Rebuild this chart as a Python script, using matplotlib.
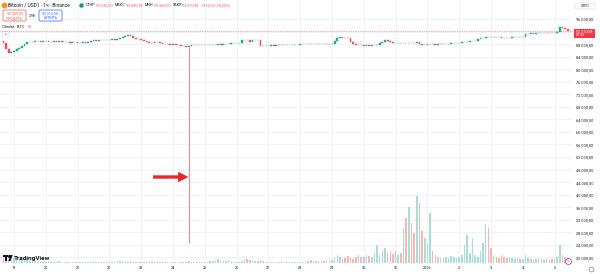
import matplotlib
matplotlib.use("Agg")
import matplotlib.pyplot as plt
import numpy as np
from matplotlib.transforms import IdentityTransform
from matplotlib.patches import FancyBboxPatch, Rectangle, Polygon, FancyArrowPatch
from matplotlib.lines import Line2D

plt.rcParams['font.family'] = ['Roboto', 'DejaVu Sans']

# ---------------- data ----------------
day_labels = ["19", "20", "21", "22", "23", "24", "25", "26", "27", "28",
              "29", "30", "31", "2026", "2", "3", "4", "5"]

hours_full = [0, 2, 4, 6, 8, 10, 12, 14, 16, 18, 20, 22]
hours_dec18 = [16, 18, 20, 22]
hours_jan05 = [0, 2, 4, 6, 8, 10]

first_open = 88900

dec18_close = [88300, 86400, 85300, 85600]
dec19_close = [85900, 86300, 86800, 87400, 88000, 88600, 88800, 88700, 88900, 89100, 88800, 88900]
dec20_close = [88900, 88700, 88800, 88900, 88800, 88900, 88700, 88800, 88600, 88500, 88700, 88600]
dec21_close = [88500, 88400, 88600, 88500, 88700, 89000, 89200, 89100, 89300, 89200, 89400, 89300]
dec22_close = [89300, 89500, 89400, 89700, 90000, 90400, 90700, 91000, 90600, 89900, 89700, 89600]
dec23_close = [89300, 88900, 88700, 88300, 88500, 88700, 88600, 88400, 88000, 87900, 88000, 87800]
dec24_close = [87900, 87700, 87600, 87400, 87300, 87200, 87300, 87600, 87700, 87600, 87800, 87700]
dec25_close = [87700, 87800, 87600, 87700, 87800, 87900, 87800, 87900, 88000, 88100, 88200, 88300]
dec26_close = [88200, 88300, 89200, 89400, 89300, 88800, 89300, 89400, 89200, 87300, 87400, 87500]
dec27_close = [87500, 87600, 87500, 87600, 87700, 87600, 87700, 87600, 87700, 87800, 87700, 87800]
dec28_close = [87900, 88000, 87900, 88000, 88100, 88000, 87900, 88000, 88100, 88000, 88100, 88000]
dec29_close = [88100, 88900, 89900, 90400, 90100, 89900, 89800, 88600, 87900, 87700, 87600, 87600]
dec30_close = [87500, 87600, 87500, 87600, 87700, 87800, 88300, 88800, 89200, 89000, 88700, 88500]
dec31_close = [88400, 88400, 88300, 88400, 88300, 88450, 88350, 88300, 88700, 87900, 87700, 87800]
jan01_close = [87900, 88000, 87900, 87800, 87900, 88000, 87900, 88000, 88100, 88200, 88300, 88400]
jan02_close = [88500, 88600, 88700, 88800, 88900, 89000, 89100, 89600, 89800, 89900, 90400, 90300]
jan03_close = [90200, 90300, 90200, 90150, 90100, 89900, 89850, 90100, 90200, 90300, 90400, 90300]
jan04_close = [90400, 91200, 91300, 91400, 91300, 91500, 91400, 91500, 91600, 91500, 91600, 91500]
jan05_close = [91600, 91700, 93400, 93100, 92700, 92310.98]

dec18_vol = [50, 40, 30, 40]
dec19_vol = [50, 70, 40, 30, 30, 50, 20, 20, 20, 10, 10, 10]
dec20_vol = [10, 10, 10, 10, 10, 20, 10, 10, 10, 10, 10, 10]
dec21_vol = [10, 10, 10, 10, 10, 10, 20, 10, 10, 10, 10, 10]
dec22_vol = [10, 10, 10, 20, 20, 20, 20, 10, 20, 10, 10, 10]
dec23_vol = [10, 10, 10, 10, 20, 10, 10, 10, 10, 10, 10, 10]
dec24_vol = [10, 10, 10, 10, 10, 10, 20, 10, 10, 10, 10, 10]
dec25_vol = [10, 10, 20, 20, 30, 40, 30, 20, 20, 30, 20, 10]
dec26_vol = [10, 10, 20, 30, 40, 30, 30, 20, 20, 30, 20, 10]
dec27_vol = [10, 10, 10, 10, 10, 20, 10, 10, 10, 10, 10, 10]
dec28_vol = [10, 10, 10, 20, 30, 20, 20, 10, 10, 20, 30, 20]
dec29_vol = [30, 50, 80, 60, 40, 50, 70, 50, 40, 60, 80, 60]
dec30_vol = [60, 80, 70, 60, 100, 180, 80, 130, 150, 100, 120, 90]
dec31_vol = [120, 80, 100, 350, 450, 560, 400, 300, 670, 600, 320, 250]
jan01_vol = [200, 500, 120, 80, 60, 50, 50, 60, 50, 70, 60, 50]
jan02_vol = [60, 80, 180, 280, 100, 250, 80, 60, 120, 200, 390, 350]
jan03_vol = [150, 80, 60, 50, 80, 60, 50, 60, 50, 40, 50, 40]
jan04_vol = [40, 80, 50, 40, 30, 40, 50, 40, 30, 40, 30, 40]
jan05_vol = [40, 60, 180, 80, 60, 55]

flash_day = 5
flash_hour = 12
flash_low = 24500

price_ticks = list(range(20000, 96001, 4000))

header_items = [("ОТКР", "92 535,00"), ("МАКС", "92 680,18"),
                ("МИН", "92 260,00"), ("ЗАКР", "92 310,98")]
header_change = "−312,02 (−0,33%)"

# ---------------- assemble ----------------
segments = [
    (-1, hours_dec18, dec18_close, dec18_vol),
    (0, hours_full, dec19_close, dec19_vol),
    (1, hours_full, dec20_close, dec20_vol),
    (2, hours_full, dec21_close, dec21_vol),
    (3, hours_full, dec22_close, dec22_vol),
    (4, hours_full, dec23_close, dec23_vol),
    (5, hours_full, dec24_close, dec24_vol),
    (6, hours_full, dec25_close, dec25_vol),
    (7, hours_full, dec26_close, dec26_vol),
    (8, hours_full, dec27_close, dec27_vol),
    (9, hours_full, dec28_close, dec28_vol),
    (10, hours_full, dec29_close, dec29_vol),
    (11, hours_full, dec30_close, dec30_vol),
    (12, hours_full, dec31_close, dec31_vol),
    (13, hours_full, jan01_close, jan01_vol),
    (14, hours_full, jan02_close, jan02_vol),
    (15, hours_full, jan03_close, jan03_vol),
    (16, hours_full, jan04_close, jan04_vol),
    (17, hours_jan05, jan05_close, jan05_vol),
]
times, closes, vols = [], [], []
for d, hrs, cl, vl in segments:
    for h, c, v in zip(hrs, cl, vl):
        times.append(d + h / 24.0)
        closes.append(c)
        vols.append(v)
times = np.array(times)
closes = np.array(closes, dtype=float)
vols = np.array(vols, dtype=float)
opens = np.concatenate([[first_open], closes[:-1]])

UP = '#26a69a'
DN = '#ef5350'
VUP = '#a8ddd8'
VDN = '#f7b4b2'
up = closes >= opens
cols = np.where(up, UP, DN)
vcols = np.where(up, VUP, VDN)

# ---------------- layout ----------------
W, H = 600, 274
fig = plt.figure(figsize=(W / 100, H / 100), dpi=100)
fig.patch.set_facecolor('white')

PLOT_R = 573
PLOT_B = 263
Y96 = 19.0
PX_PER_4000 = 12.55
DAY0_PX = 14.0
PX_PER_DAY = 31.8

ax = fig.add_axes([0, (H - PLOT_B) / H, PLOT_R / W, PLOT_B / H])
ax.set_facecolor('white')
ax.set_xlim(-DAY0_PX / PX_PER_DAY, (PLOT_R - DAY0_PX) / PX_PER_DAY)
ax.set_ylim(96000 - (PLOT_B - Y96) / PX_PER_4000 * 4000, 96000 + Y96 / PX_PER_4000 * 4000)


def fmt_price(v):
    s = f"{v:,.2f}"
    return s.replace(',', ' ').replace('.', ',')


ax.set_yticks(price_ticks)
ax.set_yticklabels([fmt_price(v) for v in price_ticks])
ax.yaxis.tick_right()
ax.tick_params(axis='y', length=0, pad=2.3, labelsize=2.8, labelcolor='#131722')
ax.set_xticks(range(len(day_labels)))
ax.set_xticklabels(day_labels)
ax.tick_params(axis='x', length=0, pad=2.2, labelsize=2.8, labelcolor='#131722')
ax.grid(True, color='#eef0f5', lw=0.6, zorder=0)
for s in ax.spines.values():
    s.set_visible(False)

# volume overlay (drawn under candles)
axv = fig.add_axes(ax.get_position(), sharex=ax, facecolor='none', zorder=0.5)
axv.set_ylim(0, PLOT_B * 10)
axv.bar(times, vols, width=0.05, color=vcols, linewidth=0)
axv.set_axis_off()

# candles on a transparent top axes sharing price scale
axc = fig.add_axes(ax.get_position(), sharex=ax, sharey=ax, facecolor='none', zorder=1)
axc.set_axis_off()
axc.bar(times, np.abs(closes - opens), bottom=np.minimum(opens, closes), width=0.055,
        color=cols, edgecolor=cols, linewidth=0.3, zorder=3)
fi = int(np.argmin(np.abs(times - (flash_day + flash_hour / 24.0))))
axc.vlines(times[fi], flash_low, min(opens[fi], closes[fi]), color='#f08a88', lw=0.8, zorder=3)
axc.axhline(closes[-1], color=DN, lw=0.5, ls=(0, (1, 1.5)), zorder=2)

# ---------------- overlays (figure pixels) ----------------
IT = IdentityTransform()


def ptext(x, y, s, **kw):
    return fig.text(x, H - y, s, transform=IT, **kw)


def pbox(x, y, w, h, ec, fc='white', lw=0.5, r=1.5):
    fig.add_artist(FancyBboxPatch((x, H - y - h), w, h,
                                  boxstyle=f'round,pad=0,rounding_size={r}',
                                  transform=IT, ec=ec, fc=fc, lw=lw))


renderer = fig.canvas.get_renderer()


def seq_text(x, y, s, **kw):
    t = ptext(x, y, s, **kw)
    bb = t.get_window_extent(renderer=renderer)
    return x + bb.width


# header
fig.add_artist(Line2D([4], [H - 5], marker='o', markersize=3.2, color='#f7931a', transform=IT))
ptext(8.5, 5, "Bitcoin / USD1 · 1ч · Binance", fontsize=3.5, color='#131722', va='center')
fig.add_artist(Line2D([81], [H - 5], marker='o', markersize=2.2, color='#089981', transform=IT))
hx = 86.0
for lab, val in header_items:
    hx = seq_text(hx, 5, lab, fontsize=2.7, color='#131722', va='center') + 0.6
    hx = seq_text(hx, 5, val, fontsize=2.7, color=DN, va='center') + 2.2
seq_text(hx, 5, header_change, fontsize=2.7, color=DN, va='center')

# buy / sell buttons
pbox(3, 10, 23, 11, ec=DN)
ptext(14.5, 13.5, "92 309,02", fontsize=2.6, color=DN, ha='center', va='center')
ptext(14.5, 18, "ПРОДАТЬ", fontsize=2.6, color=DN, ha='center', va='center')
ptext(32, 15.5, "2,98", fontsize=2.6, color='#131722', ha='center', va='center')
pbox(39, 10, 23, 11, ec='#2962ff')
ptext(50.5, 13.5, "92 312,00", fontsize=2.6, color='#2962ff', ha='center', va='center')
ptext(50.5, 18, "КУПИТЬ", fontsize=2.6, color='#2962ff', ha='center', va='center')

# volume legend
ptext(2.5, 26.5, "Объём · BTC", fontsize=2.8, color='#131722', va='center')
ptext(28, 26.5, "55", fontsize=2.8, color=DN, va='center')
pbox(2.5, 31.5, 6.5, 5.5, ec='#d1d4dc', lw=0.4, r=1)
ptext(5.75, 34.6, "^", fontsize=3, color='#131722', ha='center', va='center')

# right scale: symbol box and current price label
pbox(575, 3, 20, 6, ec='#d1d4dc', lw=0.4, r=1)
ptext(585, 6, "USD1", fontsize=2.6, color='#131722', ha='center', va='center')
fig.add_artist(Rectangle((574, H - 37.5), 21, 9, transform=IT, fc='#f23645', ec='none'))
ptext(576, 30.8, fmt_price(closes[-1]), fontsize=2.7, color='white', va='center')
ptext(576, 35, "01:33", fontsize=2.7, color='white', va='center')

# red arrow annotation
fig.add_artist(FancyArrowPatch(
    (153, H - 177), (188.5, H - 177), transform=IT,
    arrowstyle='simple,head_length=1.0,head_width=1.0,tail_width=0.32',
    mutation_scale=7.5, color='#e8262b', lw=0, shrinkA=0, shrinkB=0))

# TradingView logo
fig.add_artist(Polygon([(3, H - 255), (8, H - 255), (8, H - 257), (6.6, H - 257), (6.6, H - 261),
                        (4.6, H - 261), (4.6, H - 257), (3, H - 257)], closed=True,
                       transform=IT, fc='#131722', ec='none'))
fig.add_artist(Line2D([9.3], [H - 256], marker='o', markersize=1.3, color='#131722', transform=IT))
fig.add_artist(Polygon([(10.5, H - 255), (12.8, H - 255), (10.4, H - 261), (8.3, H - 261)], closed=True,
                       transform=IT, fc='#131722', ec='none'))
ptext(13.5, 258.3, "TradingView", fontsize=4.6, color='#131722', fontweight='bold', va='center')

# bottom-right icons
fig.add_artist(Line2D([567.5], [H - 261], marker='o', markersize=4.3, mfc='white', mec='#9c27b0',
                      mew=0.5, transform=IT))
ptext(567.5, 261, "ϟ", fontsize=2.8, color='#9c27b0', ha='center', va='center')
fig.add_artist(Line2D([591], [H - 269], marker='o', markersize=3.5, mfc='white', mec='#787b86',
                      mew=0.5, transform=IT))

fig.savefig('out.png', dpi=100, facecolor='white')
